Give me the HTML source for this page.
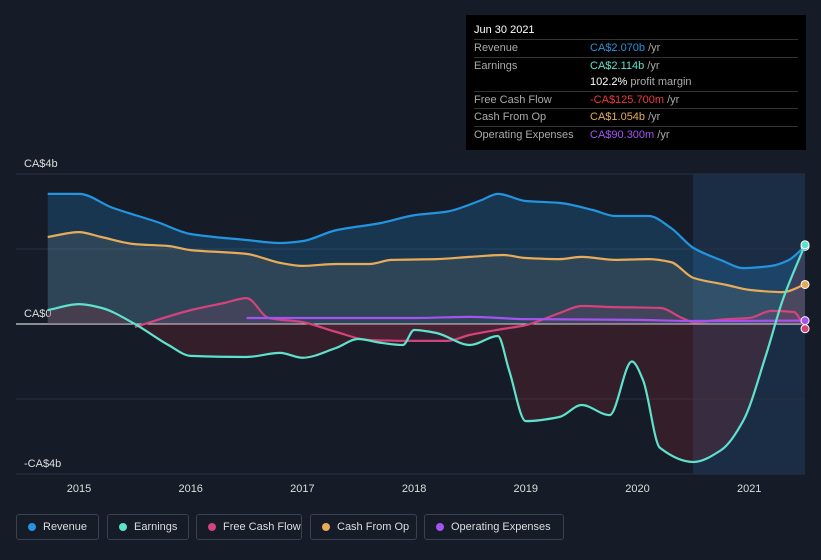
<!DOCTYPE html>
<html><head><meta charset="utf-8"><style>
body{margin:0;background:#151b27;font-family:"Liberation Sans",sans-serif;}
#wrap{position:relative;width:821px;height:560px;overflow:hidden;background:#151b27}
.tt{position:absolute;left:466px;top:15px;width:340px;height:135px;background:#000;color:#fff;font-size:11px;box-sizing:border-box;padding:8px 8px}
.tt .row{display:flex;border-top:1px solid #333;height:16.5px;line-height:16.5px}
.tt .l{width:116px;color:#aaa}
.leg{position:absolute;top:514px;height:26px;border:1px solid #3a4250;border-radius:3px;color:#ddd;font-size:11px;line-height:24px;box-sizing:border-box;padding-left:26px;white-space:nowrap}
.leg i{position:absolute;left:11px;top:8px;width:8px;height:8px;border-radius:50%}
</style></head><body>
<div id="wrap">
<svg id="svg" width="821" height="560" style="position:absolute;left:0;top:0"></svg>
<div class="tt">
<div style="height:16px;line-height:14px;font-size:11px">Jun 30 2021</div>
<div class="row"><span class="l">Revenue</span><span style="color:#2394df">CA$2.070b</span>&nbsp;<span style="color:#aaa">/yr</span></div>
<div class="row"><span class="l">Earnings</span><span style="color:#5ee2cc">CA$2.114b</span>&nbsp;<span style="color:#aaa">/yr</span></div>
<div class="row" style="border-top:none"><span class="l"></span><b style="font-weight:normal">102.2%</b>&nbsp;<span style="color:#aaa">profit margin</span></div>
<div class="row"><span class="l">Free Cash Flow</span><span style="color:#f0383f">-CA$125.700m</span>&nbsp;<span style="color:#aaa">/yr</span></div>
<div class="row"><span class="l">Cash From Op</span><span style="color:#e8ab5a">CA$1.054b</span>&nbsp;<span style="color:#aaa">/yr</span></div>
<div class="row"><span class="l">Operating Expenses</span><span style="color:#a553f0">CA$90.300m</span>&nbsp;<span style="color:#aaa">/yr</span></div>
</div>
<div class="leg" style="left:16px;width:83px"><i style="background:#2394df"></i>Revenue</div>
<div class="leg" style="left:107px;width:82px"><i style="background:#5ee2cc"></i>Earnings</div>
<div class="leg" style="left:196px;width:106px"><i style="background:#d3437c"></i>Free Cash Flow</div>
<div class="leg" style="left:310px;width:107px"><i style="background:#e8ab5a"></i>Cash From Op</div>
<div class="leg" style="left:424px;width:140px"><i style="background:#a553f0"></i>Operating Expenses</div>
</div>
<script>
const yTicks=[4,0,-4];
const yTickLabels=["CA$4b","CA$0","-CA$4b"];
const xTicks=[2015,2016,2017,2018,2019,2020,2021];
const revenueT=[2014.72,2015,2015.3,2015.7,2016,2016.5,2016.8,2017,2017.3,2017.7,2018,2018.3,2018.6,2018.75,2019,2019.3,2019.6,2019.8,2020.1,2020.3,2020.5,2020.75,2020.95,2021.2,2021.35,2021.5];
const revenueV=[3.47,3.47,3.1,2.72,2.4,2.24,2.16,2.21,2.5,2.69,2.9,3.0,3.3,3.47,3.28,3.23,3.04,2.88,2.88,2.56,2.03,1.7,1.49,1.55,1.7,2.07];
const earnT=[2014.72,2015,2015.2,2015.5,2015.8,2016,2016.5,2016.8,2017,2017.3,2017.5,2017.7,2017.9,2018,2018.2,2018.5,2018.75,2018.85,2019,2019.3,2019.5,2019.75,2019.95,2020.05,2020.2,2020.5,2020.75,2020.95,2021.15,2021.3,2021.5];
const earnV=[0.37,0.53,0.43,0,-0.56,-0.85,-0.88,-0.77,-0.9,-0.64,-0.4,-0.5,-0.56,-0.16,-0.24,-0.56,-0.32,-1.23,-2.59,-2.48,-2.16,-2.43,-1.0,-1.5,-3.3,-3.68,-3.36,-2.56,-0.83,0.64,2.114];
const fcfT=[2015.5,2016,2016.3,2016.5,2016.7,2017,2017.3,2017.6,2018,2018.3,2018.5,2018.8,2019,2019.3,2019.5,2019.8,2020.2,2020.4,2020.5,2020.8,2021,2021.2,2021.4,2021.5];
const fcfV=[-0.08,0.37,0.56,0.69,0.16,0.05,-0.21,-0.43,-0.45,-0.45,-0.29,-0.13,-0.03,0.29,0.48,0.45,0.43,0.16,0.05,0.13,0.16,0.35,0.32,-0.126];
const cfoT=[2014.72,2015,2015.2,2015.5,2015.8,2016,2016.5,2016.8,2017,2017.3,2017.6,2017.8,2018.2,2018.5,2018.8,2019,2019.3,2019.5,2019.8,2020.1,2020.3,2020.5,2020.8,2021,2021.3,2021.5];
const cfoV=[2.32,2.45,2.32,2.13,2.08,1.97,1.87,1.63,1.55,1.6,1.6,1.71,1.73,1.79,1.84,1.76,1.73,1.79,1.71,1.73,1.65,1.23,1.04,0.91,0.85,1.054];
const opexT=[2016.5,2017,2018,2018.5,2019,2020,2020.5,2021.5];
const opexV=[0.16,0.16,0.16,0.19,0.13,0.11,0.08,0.09];
const X=t=>79+(t-2015)*111.7, Y=v=>324-v*37.5;
const svg=document.getElementById('svg');const NS='http://www.w3.org/2000/svg';
function mk(tag,at,name){const e=document.createElementNS(NS,tag);for(const k in at)e.setAttribute(k,at[k]);


svg.appendChild(e);return e;}
function path(T,V){const xs=T.map(X),ys=V.map(Y),n=xs.length;const d=[],m=[];
for(let i=0;i<n-1;i++)d.push((ys[i+1]-ys[i])/(xs[i+1]-xs[i]));
m[0]=d[0];m[n-1]=d[n-2];for(let i=1;i<n-1;i++)m[i]=d[i-1]*d[i]<=0?0:2/(1/d[i-1]+1/d[i]);
let s='M'+xs[0]+','+ys[0];for(let i=0;i<n-1;i++){const h=(xs[i+1]-xs[i])/3;
s+=`C${xs[i]+h},${ys[i]+m[i]*h} ${xs[i+1]-h},${ys[i+1]-m[i+1]*h} ${xs[i+1]},${ys[i+1]}`;}return s;}
function area(T,V){return path(T,V)+`L${X(T[T.length-1])},${Y(0)}L${X(T[0])},${Y(0)}Z`;}
mk('rect',{x:693,y:174,width:112,height:300,fill:'#1b2d45'},'forecast-band');
yTicks.forEach((v,i)=>{mk('line',{x1:16,x2:805,y1:Y(v),y2:Y(v),stroke:v==0?'#fff':'#2a3140','stroke-width':1},'gridline');
const t=mk('text',{x:24,y:Y(v)-7,fill:'#ddd','font-size':11},'y-tick-label');t.textContent=yTickLabels[i];});
mk('line',{x1:16,x2:805,y1:249,y2:249,stroke:'#2a3140'},'gridline');mk('line',{x1:16,x2:805,y1:399,y2:399,stroke:'#2a3140'},'gridline');
xTicks.forEach(v=>{const t=mk('text',{x:X(v),y:492,fill:'#ddd','font-size':11,'text-anchor':'middle'},'x-tick-label');t.textContent=v;});
mk('path',{d:area(revenueT,revenueV),fill:'rgba(35,148,223,0.22)'},'revenue-area');
mk('path',{d:area(cfoT,cfoV),fill:'rgba(200,180,150,0.12)'},'cfo-area');
mk('path',{d:area(earnT,earnV),fill:'rgba(160,40,50,0.22)'},'earnings-area');
mk('path',{d:area(fcfT,fcfV),fill:'rgba(211,67,124,0.12)'},'fcf-area');
const S=[[revenueT,revenueV,'#2394df','revenue-line'],[cfoT,cfoV,'#e8ab5a','cfo-line'],[fcfT,fcfV,'#d3437c','fcf-line'],[opexT,opexV,'#a553f0','opex-line'],[earnT,earnV,'#5ee2cc','earnings-line']];
S.forEach(s=>{mk('path',{d:path(s[0],s[1]),fill:'none',stroke:s[2],'stroke-width':2.2},s[3]);
mk('circle',{cx:X(s[0][s[0].length-1]),cy:Y(s[1][s[1].length-1]),r:4,fill:s[2],stroke:'#fff','stroke-width':1},s[3]+'-end');});
</script>
</body></html>
